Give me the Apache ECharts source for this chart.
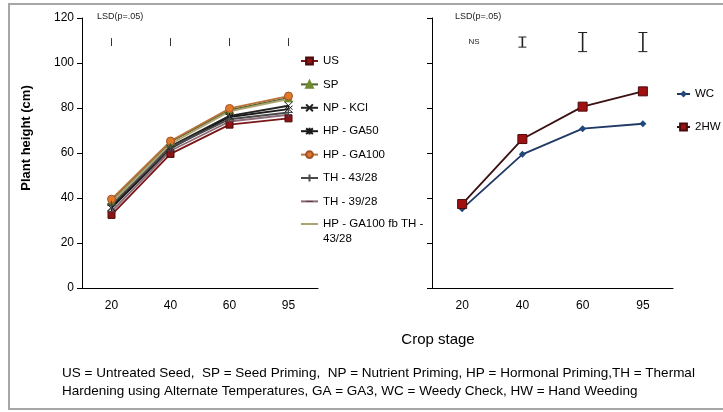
<!DOCTYPE html>
<html>
<head>
<meta charset="utf-8">
<script src="https://cdn.jsdelivr.net/npm/echarts@6/dist/echarts.min.js"></script>
<style>
  html, body { margin: 0; padding: 0; background: #fff; }
  #chart { width: 723px; height: 412px; }
</style>
</head>
<body>
<div id="chart"></div>
<script>
// crop stages (days)
var stages = ['20', '40', '60', '95'];

// left panel: seed treatments
var usVals    = [32.5, 59.6, 72.6, 75.4];
var spVals    = [38.5, 65.0, 79.0, 84.5];
var npVals    = [36.0, 63.0, 76.5, 81.0];
var ga50Vals  = [35.5, 62.0, 76.0, 79.5];
var ga100Vals = [39.5, 65.3, 79.8, 85.3];
var th43Vals  = [37.0, 62.5, 75.0, 78.0];
var th39Vals  = [34.0, 61.0, 74.0, 77.0];
var fbVals    = [38.0, 64.0, 78.5, 84.0];

// right panel: weed control
var wcVals  = [35.2, 59.4, 70.8, 73.0];
var hwVals  = [37.3, 66.2, 80.6, 87.4];

// LSD(p=.05) bar lengths (plant height units), 'NS' = not significant
var lsdLeft  = [3.5, 3.5, 3.5, 3.5];
var lsdRight = ['NS', 4.5, 8.5, 8.5];
var lsdLevel = 109.3;

var FONT = 'Liberation Sans';

var chart = echarts.init(document.getElementById('chart'));

function lineSeries(name, vals, color, symbol, size, symColor, extra) {
  var s = {
    name: name,
    type: 'line',
    xAxisIndex: 0,
    yAxisIndex: 0,
    data: vals,
    symbol: symbol,
    symbolSize: size,
    showSymbol: symbol !== 'none',
    lineStyle: { color: color, width: 1.8 },
    itemStyle: { color: symColor, borderColor: symColor, borderWidth: 1 },
    emphasis: { disabled: true },
    animation: false
  };
  if (extra) {
    for (var k in extra) s[k] = extra[k];
  }
  return s;
}

var crossX = 'path://M0,0L10,10M0,10L10,0';
var starX = 'path://M0,0L10,10M0,10L10,0M5,-1L5,11';
var plusX = 'path://M5,0L5,10M0,5L10,5';
var dashX = 'path://M0,0M0,4.2L10,4.2L10,5.8L0,5.8ZM10,10';

var series = [
  lineSeries('US', usVals, '#7a1616', 'rect', 7, '#8c1414', { itemStyle: { color: '#8c1414', borderColor: '#4a0a0a', borderWidth: 1 } }),
  lineSeries('SP', spVals, '#4f6228', 'triangle', 8, '#6e8b2e'),
  lineSeries('NP - KCl', npVals, '#222', crossX, 8, '#222', { itemStyle: { color: 'none', borderColor: '#222', borderWidth: 1 } }),
  lineSeries('HP - GA50', ga50Vals, '#1a1a1a', starX, 8, '#1a1a1a', { itemStyle: { color: 'none', borderColor: '#1a1a1a', borderWidth: 1 } }),
  lineSeries('HP - GA100', ga100Vals, '#b8733a', 'circle', 8, '#e07a27', { itemStyle: { color: '#e07a27', borderColor: '#a0522d', borderWidth: 1 } }),
  lineSeries('TH - 43/28', th43Vals, '#4a4a4a', plusX, 8, '#4a4a4a', { itemStyle: { color: 'none', borderColor: '#4a4a4a', borderWidth: 1 } }),
  lineSeries('TH - 39/28', th39Vals, '#8a6a78', dashX, 7, '#5a3a48', { itemStyle: { color: '#5a3a48', borderWidth: 0 } }),
  lineSeries('HP - GA100 fb TH - 43/28', fbVals, '#aca474', 'none', 0, '#aca474'),
  {
    name: 'WC', type: 'line', xAxisIndex: 1, yAxisIndex: 1, data: wcVals,
    symbol: 'diamond', symbolSize: 7,
    lineStyle: { color: '#1f3864', width: 1.8 },
    itemStyle: { color: '#1f497d' },
    emphasis: { disabled: true }, animation: false
  },
  {
    name: '2HW', type: 'line', xAxisIndex: 1, yAxisIndex: 1, data: hwVals,
    symbol: 'rect', symbolSize: 9,
    lineStyle: { color: '#3a1010', width: 1.8 },
    itemStyle: { color: '#a01010', borderColor: '#4a0a0a', borderWidth: 1 },
    emphasis: { disabled: true }, animation: false
  },
  {
    type: 'custom', xAxisIndex: 0, yAxisIndex: 0, silent: true, animation: false,
    data: lsdLeft.map(function (v, i) { return [i, v]; }),
    renderItem: function (params, api) {
      var c = api.coord([api.value(0), lsdLevel]);
      var h = api.size([0, api.value(1)])[1];
      return {
        type: 'line',
        shape: { x1: c[0], y1: c[1] - h / 2, x2: c[0], y2: c[1] + h / 2 },
        style: { stroke: '#333', lineWidth: 1 }
      };
    }
  },
  {
    type: 'custom', xAxisIndex: 1, yAxisIndex: 1, silent: true, animation: false,
    data: lsdRight.map(function (v, i) { return [i, v === 'NS' ? 0 : v]; }),
    renderItem: function (params, api) {
      var c = api.coord([api.value(0), lsdLevel]);
      var v = lsdRight[params.dataIndex];
      if (v === 'NS') {
        return {
          type: 'text',
          style: { text: 'NS', x: c[0] + 12, y: c[1], align: 'center', verticalAlign: 'middle', font: '8px ' + FONT, fill: '#222' }
        };
      }
      var h = api.size([0, v])[1];
      var w = h > 12 ? 9 : 8;
      var top = c[1] - h / 2, bot = c[1] + h / 2;
      return {
        type: 'group',
        children: [
          { type: 'line', shape: { x1: c[0], y1: top, x2: c[0], y2: bot }, style: { stroke: '#222', lineWidth: 1.6 } },
          { type: 'line', shape: { x1: c[0] - w / 2, y1: top, x2: c[0] + w / 2, y2: top }, style: { stroke: '#222', lineWidth: 1 } },
          { type: 'line', shape: { x1: c[0] - w / 2, y1: bot, x2: c[0] + w / 2, y2: bot }, style: { stroke: '#222', lineWidth: 1 } }
        ]
      };
    }
  }
];

function xAxis(idx) {
  return {
    type: 'category', gridIndex: idx, data: stages,
    axisLine: { lineStyle: { color: '#000', width: 1 } },
    axisTick: { length: 4, lineStyle: { color: '#000' } },
    axisLabel: { color: '#000', fontSize: 12, fontFamily: FONT, margin: 12 },
    splitLine: { show: false }
  };
}
function yAxis(idx, labels) {
  return {
    type: 'value', gridIndex: idx, min: 0, max: 120, interval: 20,
    axisLine: { show: true, lineStyle: { color: '#000', width: 1 } },
    axisTick: { show: true, length: 5, lineStyle: { color: '#000' } },
    axisLabel: { show: labels, color: '#000', fontSize: 12, fontFamily: FONT, margin: 8 },
    splitLine: { show: false }
  };
}

var leftNames = ['US', 'SP', 'NP - KCl', 'HP - GA50', 'HP - GA100', 'TH - 43/28', 'TH - 39/28'];
var fbName = 'HP - GA100 fb TH - 43/28';

var legendText = { color: '#000', fontSize: 11.5, fontFamily: FONT, lineHeight: 15 };

var option = {
  backgroundColor: '#fff',
  animation: false,
  grid: [
    { left: 82, top: 18, width: 236, height: 270 },
    { left: 432, top: 18, width: 241, height: 270 }
  ],
  xAxis: [xAxis(0), xAxis(1)],
  yAxis: [yAxis(0, true), yAxis(1, false)],
  legend: [
    {
      orient: 'vertical', left: 300, top: 53.5, padding: 0,
      itemWidth: 17, itemHeight: 8.5, itemGap: 8.4,
      textStyle: legendText,
      data: leftNames,
      selectedMode: false
    },
    {
      // last entry wraps; blank first line keeps the icon on the first text line
      orient: 'vertical', left: 300, top: 201.5, padding: 0,
      itemWidth: 17, itemHeight: 8.5,
      textStyle: legendText,
      data: [{ name: fbName, itemStyle: { opacity: 0 } }],
      formatter: function () { return ' \nHP - GA100 fb TH -\n43/28'; },
      selectedMode: false
    },
    {
      orient: 'vertical', left: 676, top: 86.5, padding: 0,
      itemWidth: 13, itemHeight: 8.5, itemGap: 18,
      textStyle: legendText,
      data: ['WC', '2HW'],
      selectedMode: false
    }
  ],
  graphic: [
    { type: 'rect', shape: { x: 9, y: 4, width: 740, height: 405 }, style: { fill: 'none', stroke: '#a6a6a6', lineWidth: 2 }, silent: true },
    { type: 'text', x: 26, y: 138, rotation: Math.PI / 2, style: { text: 'Plant height (cm)', font: 'bold 13px ' + FONT, fill: '#000', align: 'center', verticalAlign: 'middle' } },
    { type: 'text', x: 97, y: 17, style: { text: 'LSD(p=.05)', font: '9px ' + FONT, fill: '#222', verticalAlign: 'middle' } },
    { type: 'text', x: 455, y: 17, style: { text: 'LSD(p=.05)', font: '9px ' + FONT, fill: '#222', verticalAlign: 'middle' } },
    { type: 'text', x: 438, y: 340, style: { text: 'Crop stage', font: '15px ' + FONT, fill: '#000', align: 'center', verticalAlign: 'middle' } },
    { type: 'text', x: 62, y: 373, style: { text: 'US = Untreated Seed,  SP = Seed Priming,  NP = Nutrient Priming, HP = Hormonal Priming,TH = Thermal', font: '13.5px ' + FONT, fill: '#000', verticalAlign: 'middle' } },
    { type: 'text', x: 62, y: 391, style: { text: 'Hardening using Alternate Temperatures, GA = GA3, WC = Weedy Check, HW = Hand Weeding', font: '13.5px ' + FONT, fill: '#000', verticalAlign: 'middle' } }
  ],
  series: series
};

chart.setOption(option);
</script>
</body>
</html>
